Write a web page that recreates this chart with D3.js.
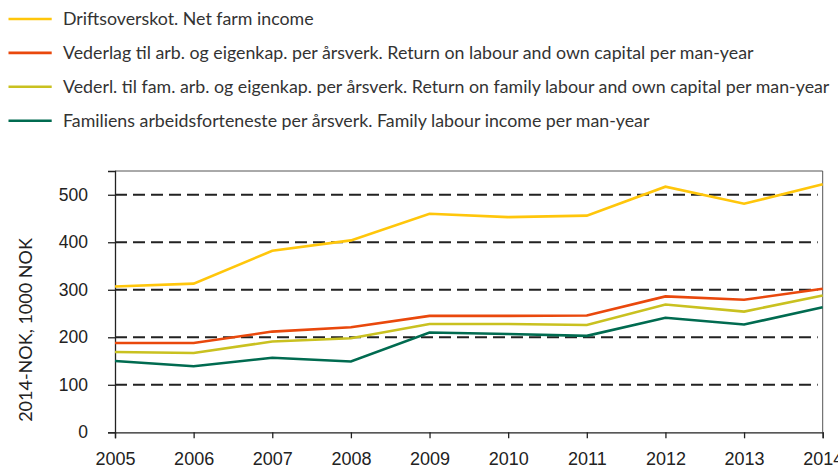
<!DOCTYPE html>
<html><head><meta charset="utf-8">
<script src="https://cdn.jsdelivr.net/npm/d3@7"></script>
<style>
html,body{margin:0;padding:0;background:#fff;}
svg{display:block;font-family:"Lato","Open Sans",sans-serif;}
</style></head>
<body><svg id="chart" width="838" height="472"></svg>
<script>
const years = [2005,2006,2007,2008,2009,2010,2011,2012,2013,2014];
const netFarmIncome = [307,313,382,404,460,453,456,517,481,522];
const returnLabourCapital = [188,188,212,221,245,245,246,286,279,302];
const returnFamilyLabourCapital = [169,167,191,198,228,228,226,269,254,288];
const familyLabourIncome = [150,139,157,149,210,207,203,241,227,263];
const yTicks = [0,100,200,300,400,500];
const seriesNames = [
  "Driftsoverskot. Net farm income",
  "Vederlag til arb. og eigenkap. per årsverk. Return on labour and own capital per man-year",
  "Vederl. til fam. arb. og eigenkap. per årsverk. Return on family labour and own capital per man-year",
  "Familiens arbeidsforteneste per årsverk. Family labour income per man-year"
];
const seriesColors = ["#FFC60B","#E9480C","#C9C120","#006B50"];
const seriesValues = [netFarmIncome, returnLabourCapital, returnFamilyLabourCapital, familyLabourIncome];
const yLabel = "2014-NOK, 1000 NOK";

const svg = d3.select("#chart");
const m = {left:115, right:822.7, top:171, bottom:432.3};
const x = d3.scaleLinear().domain([2005,2014]).range([m.left,m.right]);
const y = d3.scaleLinear().domain([0,550]).range([m.bottom,m.top]);

// legend
const leg = svg.append("g");
seriesNames.forEach((n,i)=>{
  const yy = 19 + i*33.9;
  leg.append("line").attr("x1",8.5).attr("x2",51.7).attr("y1",yy).attr("y2",yy)
    .attr("stroke",seriesColors[i]).attr("stroke-width",2.6);
  leg.append("text").attr("x",63).attr("y",yy+6).attr("font-size",17.8).attr("fill","#333").text(n);
});

// frame top/right
svg.append("line").attr("x1",m.left).attr("x2",m.right).attr("y1",m.top).attr("y2",m.top).attr("stroke","#555").attr("stroke-width",1);
svg.append("line").attr("x1",m.right).attr("x2",m.right).attr("y1",m.top).attr("y2",m.bottom).attr("stroke","#555").attr("stroke-width",1);

// grid
svg.append("g").selectAll("line").data(yTicks.filter(d=>d>0)).join("line")
  .attr("x1",m.left).attr("x2",m.right-5).attr("y1",d=>y(d)).attr("y2",d=>y(d))
  .attr("stroke","#222").attr("stroke-width",2).attr("stroke-dasharray","12,6");

// y axis
const ya = svg.append("g").attr("transform",`translate(${m.left},0)`)
  .call(d3.axisLeft(y).tickValues(yTicks).tickSize(7).tickPadding(20).tickFormat(d3.format("d")));
ya.select(".domain").attr("stroke","#222").attr("stroke-width",1.3);
ya.selectAll(".tick line").attr("stroke","#222").attr("stroke-width",1.3);
ya.selectAll("text").attr("font-size",17.5).attr("fill","#222").attr("font-family","inherit");

// x axis
const xa = svg.append("g").attr("transform",`translate(0,${m.bottom})`)
  .call(d3.axisBottom(x).tickValues(years).tickSize(6).tickPadding(14).tickFormat(d3.format("d")));
xa.select(".domain").attr("stroke","#222").attr("stroke-width",1.3);
xa.selectAll(".tick line").attr("stroke","#222").attr("stroke-width",1.3);
xa.selectAll("text").attr("font-size",18).attr("fill","#222").attr("font-family","inherit");

// y label
svg.append("text").attr("transform","translate(32,330) rotate(-90)").attr("text-anchor","middle")
  .attr("font-size",18).attr("fill","#222").text(yLabel);

// lines
const lineGen = vals => d3.line().x((d,i)=>x(years[i])).y(d=>y(d))(vals);
seriesValues.forEach((vals,i)=>{
  svg.append("path").attr("d",lineGen(vals)).attr("fill","none")
    .attr("stroke",seriesColors[i]).attr("stroke-width",2.6).attr("stroke-linejoin","miter");
});
</script></body></html>
